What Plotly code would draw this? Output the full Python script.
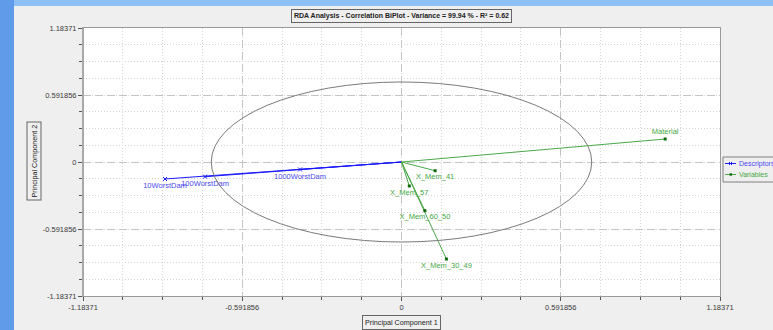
import plotly.graph_objects as go

# Biplot scores
desc_names = ["10WorstDam", "100WorstDam", "1000WorstDam"]
desc_x = [-0.879, -0.730, -0.377]
desc_y = [-0.150, -0.130, -0.066]

var_names = ["Material", "X_Mem_41", "X_Mem_57", "X_Mem_60_50", "X_Mem_30_49"]
var_x = [0.980, 0.125, 0.029, 0.087, 0.167]
var_y = [0.203, -0.077, -0.212, -0.430, -0.857]

legend_names = ["Descriptors", "Variables"]

axis_lim = 1.18371
major_ticks = [-1.18371, -0.591856, 0.0, 0.591856, 1.18371]
major_labels = ["-1.18371", "-0.591856", "0", "0.591856", "1.18371"]
circle_radius = 0.707

title_text = "RDA Analysis - Correlation BiPlot - Variance = 99.94 % - R² = 0.62"

W, H = 773, 330
L, R, T, B = 83, 53, 28, 34
PW, PH = W - L - R, H - T - B

BLUE = "#1a1aff"
BLUE_TXT = "#4a4af0"
GREEN = "#4aa84a"
GREEN_DK = "#0f6a0f"
GREEN_TXT = "#45a845"
PANEL = "#efefef"
FONT = "Liberation Sans, Arial, sans-serif"


def px_x(px):
    """Horizontal pixel position -> paper fraction."""
    return (px - L) / PW


def px_y(py):
    """Vertical pixel position (from top) -> paper fraction."""
    return (H - B - py) / PH


def vectors(xs, ys):
    """Origin-to-point segments, separated by gaps."""
    vx, vy = [], []
    for x, y in zip(xs, ys):
        vx += [0, x, None]
        vy += [0, y, None]
    return vx, vy


minor_step = major_ticks[1] - major_ticks[0]
minor_ticks = [major_ticks[0] + i * minor_step / 4 for i in range(17)]

fig = go.Figure()

# blue window backdrop strips (left and top)
fig.add_shape(type="rect", xref="paper", yref="paper", layer="below",
              x0=px_x(-5), x1=px_x(14), y0=px_y(H + 5), y1=px_y(-5),
              fillcolor="#5f9be8", line=dict(width=0))
fig.add_shape(type="rect", xref="paper", yref="paper", layer="below",
              x0=px_x(14), x1=px_x(W + 5), y0=px_y(6), y1=px_y(-5),
              fillcolor="#8cc0f6", line=dict(width=0))

# correlation circle
fig.add_shape(type="circle", xref="x", yref="y",
              x0=-circle_radius, x1=circle_radius,
              y0=-circle_radius, y1=circle_radius,
              line=dict(color="#7a7a7a", width=1), layer="above")

# descriptor arrows
dx, dy = vectors(desc_x, desc_y)
fig.add_trace(go.Scatter(x=dx, y=dy, mode="lines", line=dict(color=BLUE, width=1),
                         showlegend=False, hoverinfo="skip"))
fig.add_trace(go.Scatter(x=desc_x, y=desc_y, mode="markers+text", text=desc_names,
                         textposition="bottom center",
                         textfont=dict(color=BLUE_TXT, size=7.5, family=FONT),
                         marker=dict(symbol="x-thin", size=4, line=dict(color=BLUE, width=1)),
                         showlegend=False))

# variable arrows
vx, vy = vectors(var_x, var_y)
fig.add_trace(go.Scatter(x=vx, y=vy, mode="lines", line=dict(color=GREEN, width=1),
                         showlegend=False, hoverinfo="skip"))
fig.add_trace(go.Scatter(x=var_x, y=var_y, mode="markers+text", text=var_names,
                         textposition=["top center"] + ["bottom center"] * (len(var_names) - 1),
                         textfont=dict(color=GREEN_TXT, size=7.5, family=FONT),
                         marker=dict(symbol="square", size=3, color=GREEN_DK),
                         showlegend=False))

axis_common = dict(
    range=[-axis_lim, axis_lim],
    tickvals=major_ticks,
    ticktext=major_labels,
    ticks="outside", ticklen=4, tickcolor="#555", tickwidth=1,
    tickfont=dict(size=7.5, color="#3a3a3a", family=FONT),
    showgrid=True, gridcolor="#c4c4c4", gridwidth=1, griddash="8px,4px",
    zeroline=False,
    showline=True, linecolor="#9a9a9a", linewidth=1, mirror=True,
    minor=dict(tickvals=minor_ticks, ticks="outside", ticklen=3, tickcolor="#555",
               showgrid=True, gridcolor="#d6d6d6", griddash="1px,2px", gridwidth=1),
    fixedrange=True,
)

fig.update_layout(
    width=W, height=H,
    margin=dict(l=L, r=R, t=T, b=B, pad=0, autoexpand=False),
    paper_bgcolor=PANEL,
    plot_bgcolor="#ffffff",
    font=dict(family=FONT, size=8, color="#333"),
    xaxis=axis_common,
    yaxis=axis_common,
    showlegend=False,
)

# thicker left axis edge
fig.add_shape(type="line", xref="paper", yref="paper", x0=0, x1=0, y0=0, y1=1,
              line=dict(color="#a8a8a8", width=2))

# legend box, running past the window edge
fig.add_shape(type="rect", xref="paper", yref="paper",
              x0=px_x(723), x1=px_x(W + 10), y0=px_y(182), y1=px_y(157),
              fillcolor=PANEL, line=dict(color="#808080", width=1))
legend_styles = [(BLUE, BLUE_TXT, "x"), (GREEN, GREEN_TXT, "sq")]
for i, (name, (lc, tc, sym)) in enumerate(zip(legend_names, legend_styles)):
    yy = 163.5 + i * 11
    fig.add_shape(type="line", xref="paper", yref="paper",
                  x0=px_x(725), x1=px_x(736), y0=px_y(yy), y1=px_y(yy),
                  line=dict(color=lc, width=1))
    if sym == "x":
        for s in (1, -1):
            fig.add_shape(type="line", xref="paper", yref="paper",
                          x0=px_x(729), x1=px_x(732),
                          y0=px_y(yy - 1.5 * s), y1=px_y(yy + 1.5 * s),
                          line=dict(color=lc, width=1))
    else:
        fig.add_shape(type="rect", xref="paper", yref="paper",
                      x0=px_x(729.5), x1=px_x(732), y0=px_y(yy + 1.2), y1=px_y(yy - 1.2),
                      fillcolor=GREEN_DK, line=dict(width=0))
    fig.add_annotation(text=name, xref="paper", yref="paper",
                       x=px_x(736.5), y=px_y(yy), xanchor="left", yanchor="middle",
                       showarrow=False, font=dict(size=7, color=tc, family=FONT))

# chart title box
fig.add_annotation(text=f"<b>{title_text}</b>", xref="paper", yref="paper",
                   x=px_x(401), y=px_y(15.5),
                   xanchor="center", yanchor="middle", showarrow=False,
                   font=dict(size=7, color="#222", family=FONT),
                   bgcolor=PANEL, bordercolor="#666", borderwidth=1, borderpad=2)

# axis title boxes
fig.add_annotation(text="Principal Component 1", xref="paper", yref="paper",
                   x=px_x(401.5), y=px_y(322.5),
                   xanchor="center", yanchor="middle", showarrow=False,
                   font=dict(size=7.2, color="#222", family=FONT),
                   bgcolor=PANEL, bordercolor="#666", borderwidth=1, borderpad=2)
fig.add_annotation(text="Principal Component 2", xref="paper", yref="paper",
                   x=px_x(33.5), y=px_y(161), textangle=-90,
                   xanchor="center", yanchor="middle", showarrow=False,
                   font=dict(size=7.2, color="#222", family=FONT),
                   bgcolor=PANEL, bordercolor="#666", borderwidth=1, borderpad=2)

fig.write_html("out.html", config={"displayModeBar": False})
